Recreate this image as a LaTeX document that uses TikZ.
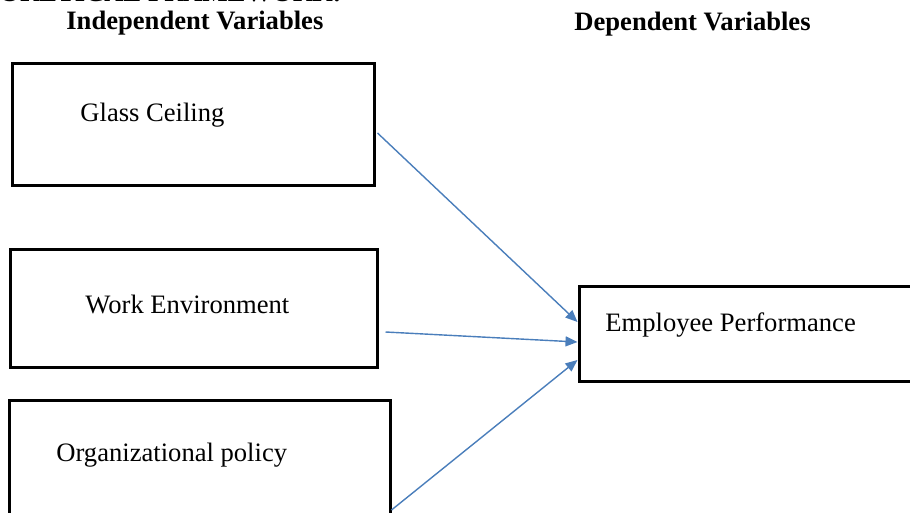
\documentclass[tikz,border=0pt]{standalone}
\usepackage{fontspec}
\setmainfont{Liberation Serif}
\usetikzlibrary{arrows.meta}
\definecolor{linkblue}{HTML}{4A7EBB}
\tikzset{varbox/.style={rectangle, draw=black, line width=1.5pt, inner sep=0pt}}
\tikzset{vartext/.style={anchor=base west, inner sep=0pt, font=\fontsize{13.3}{16}\selectfont}}
\tikzset{head/.style={anchor=base west, inner sep=0pt, font=\fontsize{13.3}{16}\selectfont\bfseries}}
\tikzset{link/.style={draw=linkblue, line width=0.7pt, -{Triangle[length=6pt,width=5pt]}}}

\begin{document}
\begin{tikzpicture}[x=0.5pt,y=-0.5pt]
\useasboundingbox (0,0) rectangle (910,513);
\clip (0,0) rectangle (910,513);

% headings
\node[head, anchor=base east] (title) at (342,1.5) {THEORETICAL FRAMEWORK:};
\node[head] (indep) at (66,30) {Independent Variables};
\node[head] (dep) at (574,31) {Dependent Variables};

% independent variables
\node[varbox, minimum width=181pt, minimum height=61pt] (glass) at (193,125) {};
\node[vartext] (glasstext) at (80,122) {Glass Ceiling};
\node[varbox, minimum width=183.5pt, minimum height=58.5pt] (work) at (193.5,308.5) {};
\node[vartext] (worktext) at (85,314) {Work Environment};
\node[varbox, minimum width=190.5pt, minimum height=70pt] (org) at (199.5,470) {};
\node[vartext] (orgtext) at (56,461) {Organizational policy};

% dependent variable
\node[varbox, minimum width=210.5pt, minimum height=47pt] (emp) at (789.5,334) {};
\node[vartext] (emptext) at (605,331) {Employee Performance};

% links
\draw[link] ([shift={(1pt,-4pt)}]glass.east) -- ([yshift=6pt]emp.west);
\draw[link] ([shift={(3.5pt,-11.75pt)}]work.east) -- ([yshift=-4pt]emp.west);
\draw[link] ([yshift=-20pt]org.east) -- ([yshift=-13pt]emp.west);
\end{tikzpicture}
\end{document}
